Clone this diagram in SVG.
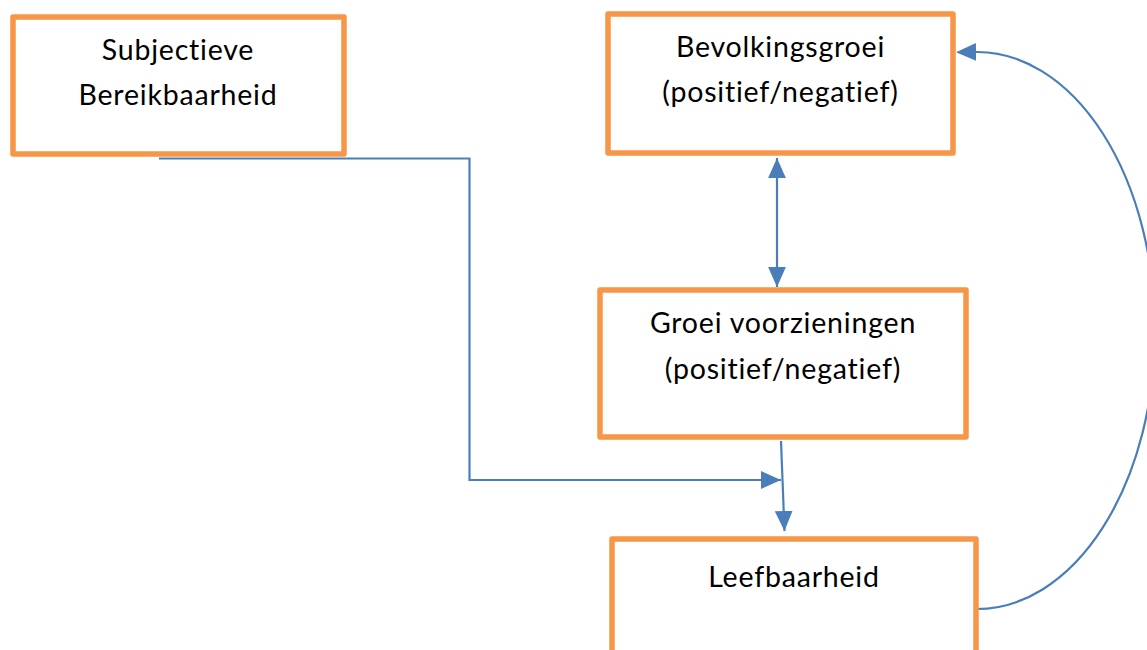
<svg xmlns="http://www.w3.org/2000/svg" width="1147" height="650" viewBox="0 0 1147 650">
<style>
.box{fill:#ffffff;stroke:#f79646;stroke-width:5.5;stroke-linejoin:round}
.lbl{font-family:Lato,"Open Sans","Liberation Sans",sans-serif;font-size:28.5px;letter-spacing:0.8px;font-variant-ligatures:none;fill:#000000;text-anchor:middle}
.con{fill:none;stroke:#4a7ebb;stroke-width:2.2}
</style>
<defs>
<marker id="arr" markerUnits="userSpaceOnUse" markerWidth="20" markerHeight="18" viewBox="0 0 18 16" refX="18" refY="8" orient="auto-start-reverse">
<path d="M0,0 L18,8 L0,16 Z" fill="#4a7ebb"/>
</marker>
<marker id="arrB" markerUnits="userSpaceOnUse" markerWidth="20" markerHeight="18" viewBox="0 0 18 16" refX="0" refY="8" orient="auto">
<path d="M0,0 L18,8 L0,16 Z" fill="#4a7ebb"/>
</marker>
</defs>
<rect width="1147" height="650" fill="#ffffff"/>
<g id="connectors">
<path class="con" d="M159,158.5 H469.5 V480 H781" marker-end="url(#arr)"/>
<path class="con" d="M781,441 L784.5,531" marker-end="url(#arr)"/>
<path class="con" d="M777,158 V287" marker-start="url(#arr)" marker-end="url(#arr)"/>
<path class="con" d="M977,609 A178,278.5 0 0 0 1155,330.5 A178,278.5 0 0 0 976,52" marker-end="url(#arrB)"/>
</g>
<g id="node-subjectieve">
<rect class="box" x="13" y="17" width="331" height="137"/>
<text class="lbl" x="178" y="60">Subjectieve</text>
<text class="lbl" x="178" y="105">Bereikbaarheid</text>
</g>
<g id="node-bevolkingsgroei">
<rect class="box" x="608" y="14" width="345" height="139"/>
<text class="lbl" x="780.5" y="57">Bevolkingsgroei</text>
<text class="lbl" x="780.5" y="102">(positief/negatief)</text>
</g>
<g id="node-groei-voorzieningen">
<rect class="box" x="600" y="290" width="366" height="147"/>
<text class="lbl" x="783" y="333">Groei voorzieningen</text>
<text class="lbl" x="783" y="379">(positief/negatief)</text>
</g>
<g id="node-leefbaarheid">
<rect class="box" x="612" y="539" width="364" height="130"/>
<text class="lbl" x="794" y="587">Leefbaarheid</text>
</g>
</svg>
